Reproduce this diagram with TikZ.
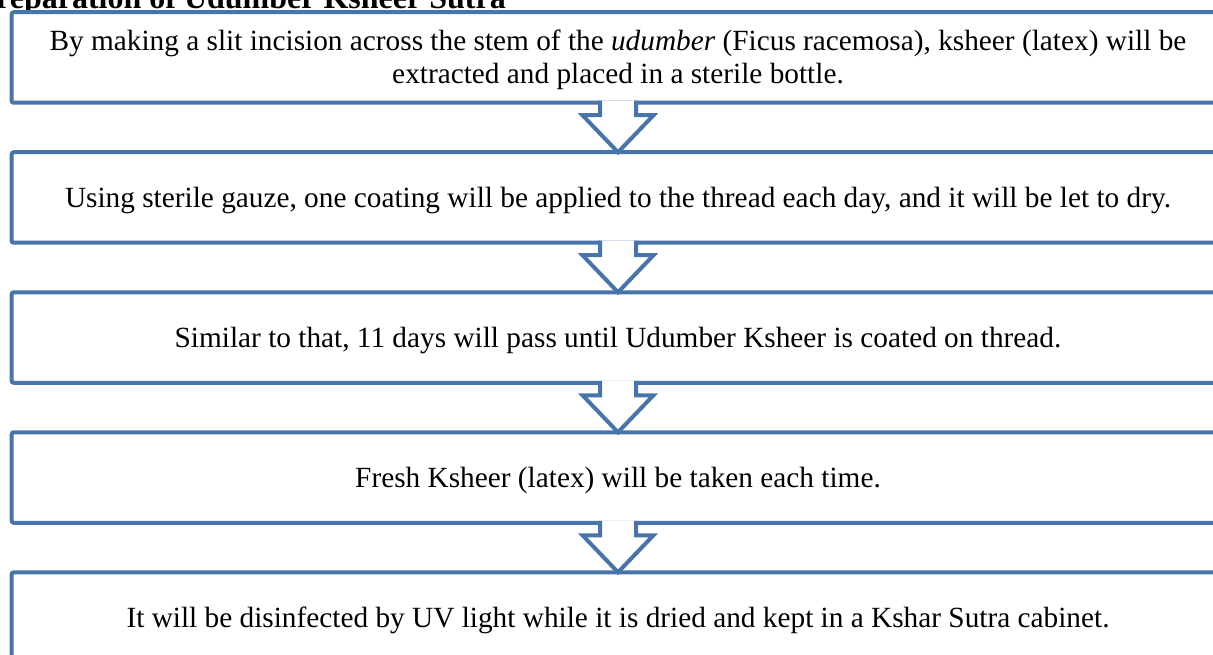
\documentclass[tikz,border=0pt]{standalone}
\usepackage{fontspec}
\setmainfont{Liberation Serif}
\usetikzlibrary{calc}
\definecolor{boxblue}{RGB}{72,116,172}
\begin{document}
\begin{tikzpicture}[x=1pt,y=-1pt,
  box/.style={draw=boxblue, line width=4pt, rounded corners=2pt, fill=white,
    minimum width=1212.6pt, minimum height=90.5pt, outer sep=0pt, inner sep=0pt,
    align=center, font=\fontsize{29.3}{33}\selectfont, text height=19.4pt, text depth=0pt},
  chev/.style={draw=boxblue, line width=4pt, line join=miter, fill=white},
  ttl/.style={anchor=base west, inner sep=0pt, font=\bfseries\fontsize{32}{36}\selectfont}]
\useasboundingbox (0,0) rectangle (1213,655);
\clip (0,0) rectangle (1213,655);
\node[ttl] (title) at (-4,9) {\llap{P}reparation of Udumber Ksheer Sutra};
\node[box, text height=52.4pt] (b1) at (618,57.5) {By making a slit incision across the stem of the \textit{udumber} (Ficus racemosa), ksheer (latex) will be\\extracted and placed in a sterile bottle.};
\node[box] (b2) at (618,197.5) {Using sterile gauze, one coating will be applied to the thread each day, and it will be let to dry.};
\node[box] (b3) at (618,337.5) {Similar to that, 11 days will pass until Udumber Ksheer is coated on thread.};
\node[box] (b4) at (618,477.5) {Fresh Ksheer (latex) will be taken each time.};
\node[box] (b5) at (618,617.5) {It will be disinfected by UV light while it is dried and kept in a Kshar Sutra cabinet.};
\foreach \a/\b in {b1/b2,b2/b3,b3/b4,b4/b5}{
  \draw[chev] ($(\a.south)+(-18,-2)$) -- ++(0,14.5) -- ++(-17.5,0) -- (\b.north)
    -- ($(\a.south)+(35.5,12.5)$) -- ++(-17.5,0) -- ++(0,-14.5);
}
\end{tikzpicture}
\end{document}
